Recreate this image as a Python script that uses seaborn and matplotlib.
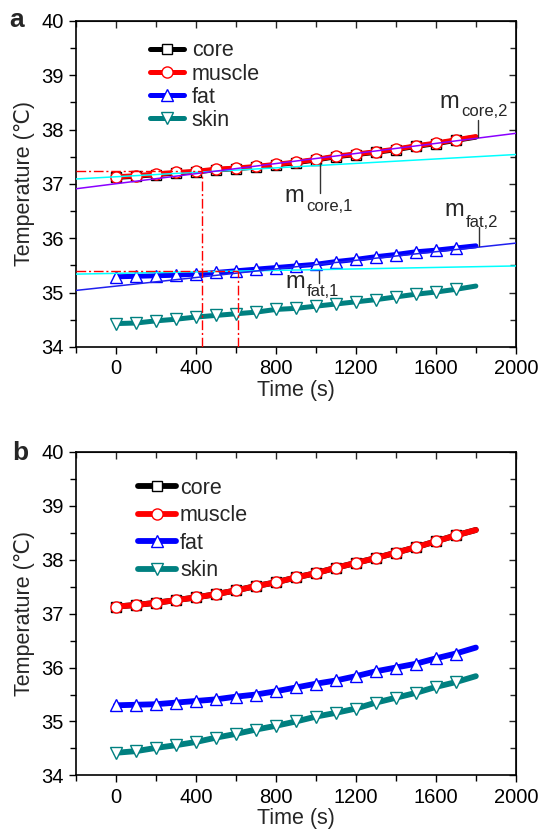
import numpy as np
import seaborn as sns
import matplotlib
matplotlib.use('Agg')
import matplotlib.pyplot as plt
from matplotlib.ticker import MultipleLocator

# time axis (s)
time = [0, 100, 200, 300, 400, 500, 600, 700, 800, 900,
        1000, 1100, 1200, 1300, 1400, 1500, 1600, 1700, 1800]

# panel a
a_core = [37.12, 37.14, 37.17, 37.20, 37.22, 37.26, 37.28, 37.31, 37.35, 37.39,
          37.44, 37.50, 37.54, 37.58, 37.63, 37.69, 37.74, 37.80, 37.86]
a_muscle = [37.13, 37.15, 37.18, 37.21, 37.23, 37.27, 37.29, 37.32, 37.36, 37.40,
            37.45, 37.51, 37.55, 37.59, 37.64, 37.70, 37.75, 37.81, 37.87]
a_fat = [35.29, 35.30, 35.31, 35.32, 35.34, 35.37, 35.40, 35.43, 35.46, 35.49,
         35.52, 35.57, 35.61, 35.66, 35.70, 35.75, 35.78, 35.82, 35.86]
a_skin = [34.43, 34.44, 34.48, 34.51, 34.55, 34.58, 34.61, 34.64, 34.69, 34.71,
          34.75, 34.79, 34.83, 34.87, 34.92, 34.97, 35.01, 35.06, 35.12]

# panel b
b_core = [37.13, 37.16, 37.20, 37.25, 37.30, 37.36, 37.43, 37.51, 37.58, 37.67,
          37.75, 37.85, 37.94, 38.03, 38.13, 38.23, 38.34, 38.45, 38.55]
b_muscle = [37.13, 37.16, 37.20, 37.25, 37.30, 37.36, 37.43, 37.51, 37.58, 37.67,
            37.75, 37.85, 37.94, 38.03, 38.13, 38.23, 38.34, 38.45, 38.55]
b_fat = [35.30, 35.31, 35.32, 35.35, 35.38, 35.41, 35.46, 35.50, 35.56, 35.63,
         35.70, 35.76, 35.84, 35.93, 36.00, 36.07, 36.17, 36.26, 36.37]
b_skin = [34.42, 34.45, 34.51, 34.56, 34.62, 34.70, 34.77, 34.85, 34.92, 35.00,
          35.09, 35.16, 35.24, 35.35, 35.44, 35.53, 35.64, 35.73, 35.84]

# tangent lines in panel a (end points at t=-200 and t=2000)
tan_t = [-200, 2000]
core_tan1 = [37.09, 37.54]
core_tan2 = [36.91, 37.93]
fat_tan1 = [35.34, 35.49]
fat_tan2 = [35.04, 35.91]

# intersection guides (time, temperature)
guide_core = (430, 37.23)
guide_fat = (608, 35.40)

labels = ['core', 'muscle', 'fat', 'skin']
colors = ['#000000', '#ff0000', '#0000ff', '#008080']
markers = ['s', 'o', '^', 'v']

sns.set_style('ticks')
plt.rcParams['font.family'] = ['Liberation Sans', 'DejaVu Sans']

fig = plt.figure(figsize=(5.39, 8.32), dpi=100)
ax_a = fig.add_axes([0.141, 0.583, 0.816, 0.392])
ax_b = fig.add_axes([0.141, 0.068, 0.816, 0.389])

FS = 15.5
TS = 14.5


def draw_series(ax, series, lw):
    for vals, lab, c, m in zip(series, labels, colors, markers):
        ms = 6.5 if m == 's' else 8
        sns.lineplot(x=time, y=vals, ax=ax, color=c, linewidth=lw, marker=m,
                     markevery=list(range(18)), markersize=ms,
                     markerfacecolor='white', markeredgecolor=c,
                     markeredgewidth=1.0, solid_capstyle='round',
                     label=lab, legend=False, zorder=3)


def style_axes(ax):
    ax.set_xlim(-200, 2000)
    ax.set_ylim(34, 40)
    ax.set_xticks([0, 400, 800, 1200, 1600, 2000])
    ax.set_yticks([34, 35, 36, 37, 38, 39, 40])
    ax.xaxis.set_minor_locator(MultipleLocator(200))
    ax.yaxis.set_minor_locator(MultipleLocator(0.5))
    ax.tick_params(which='both', direction='out', top=False, right=False,
                   width=1.0, labelsize=TS, colors='black')
    ax.tick_params(which='major', length=5, pad=4)
    ax.tick_params(which='minor', length=4)
    for s in ax.spines.values():
        s.set_linewidth(1.2)
        s.set_color('black')
        s.set_visible(True)
    top = ax.secondary_xaxis('top')
    top.set_xticks([0, 400, 800, 1200, 1600, 2000])
    top.xaxis.set_minor_locator(MultipleLocator(200))
    top.tick_params(which='both', direction='in', labeltop=False, width=1.0)
    top.tick_params(which='major', length=5)
    top.tick_params(which='minor', length=4)
    right = ax.secondary_yaxis('right')
    right.set_yticks([34, 35, 36, 37, 38, 39, 40])
    right.yaxis.set_minor_locator(MultipleLocator(0.5))
    right.tick_params(which='both', direction='in', labelright=False, width=1.0)
    right.tick_params(which='major', length=5)
    right.tick_params(which='minor', length=4)
    ax.set_xlabel('Time (s)', fontsize=FS, labelpad=1)
    ax.set_ylabel('Temperature (℃)', fontsize=FS, labelpad=4)


# ---- panel a ----
draw_series(ax_a, [a_core, a_muscle, a_fat, a_skin], 3.6)
ax_a.plot(tan_t, core_tan1, color='#00ffff', lw=1.1, zorder=4)
ax_a.plot(tan_t, core_tan2, color='#8a00ff', lw=1.1, zorder=4)
ax_a.plot(tan_t, fat_tan1, color='#00ffff', lw=1.1, zorder=4)
ax_a.plot(tan_t, fat_tan2, color='#2020ee', lw=1.1, zorder=4)

dashdot = (0, (7, 2, 1.5, 2))
for gt, gy in (guide_core, guide_fat):
    ax_a.plot([-200, gt], [gy, gy], color='#ff0000', lw=1.0, ls=dashdot, zorder=4)
    ax_a.plot([gt, gt], [34, gy], color='#ff0000', lw=1.0, ls=dashdot, zorder=4)

# slope annotations: leader line, "m" and subscript
notes = [
    (1811, 37.87, 38.18, 1618, 38.40, 1725, 38.24, 'core,2'),
    (1021, 37.38, 36.84, 843, 36.66, 952, 36.50, 'core,1'),
    (1816, 35.85, 36.21, 1643, 36.40, 1751, 36.21, 'fat,2'),
    (1016, 35.40, 35.17, 848, 35.08, 955, 34.93, 'fat,1'),
]
for lx, ly0, ly1, mx, my, sx, sy, sub in notes:
    ax_a.plot([lx, lx], [ly0, ly1], color='#333333', lw=1.0, zorder=5)
    ax_a.text(mx, my, 'm', fontsize=17, ha='left', va='baseline', zorder=6)
    ax_a.text(sx, sy, sub, fontsize=12, ha='left', va='baseline', zorder=6)

style_axes(ax_a)
ax_a.legend(handles=ax_a.lines[:4], loc='upper left', bbox_to_anchor=(0.168, 0.94),
            frameon=False, fontsize=FS, borderpad=0, borderaxespad=0,
            handlelength=1.6, handletextpad=0.35, labelspacing=0.1, numpoints=1)

# ---- panel b ----
draw_series(ax_b, [b_core, b_muscle, b_fat, b_skin], 4.2)
style_axes(ax_b)
ax_b.legend(handles=ax_b.lines[:4], loc='upper left', bbox_to_anchor=(0.141, 0.92),
            frameon=False, fontsize=FS, borderpad=0, borderaxespad=0,
            handlelength=1.75, handletextpad=0.2, labelspacing=0.3, numpoints=1)

fig.text(0.018, 0.967, 'a', fontsize=19, fontweight='bold', va='baseline')
fig.text(0.022, 0.447, 'b', fontsize=19, fontweight='bold', va='baseline')

fig.savefig('out.png', dpi=100)
plt.close(fig)
